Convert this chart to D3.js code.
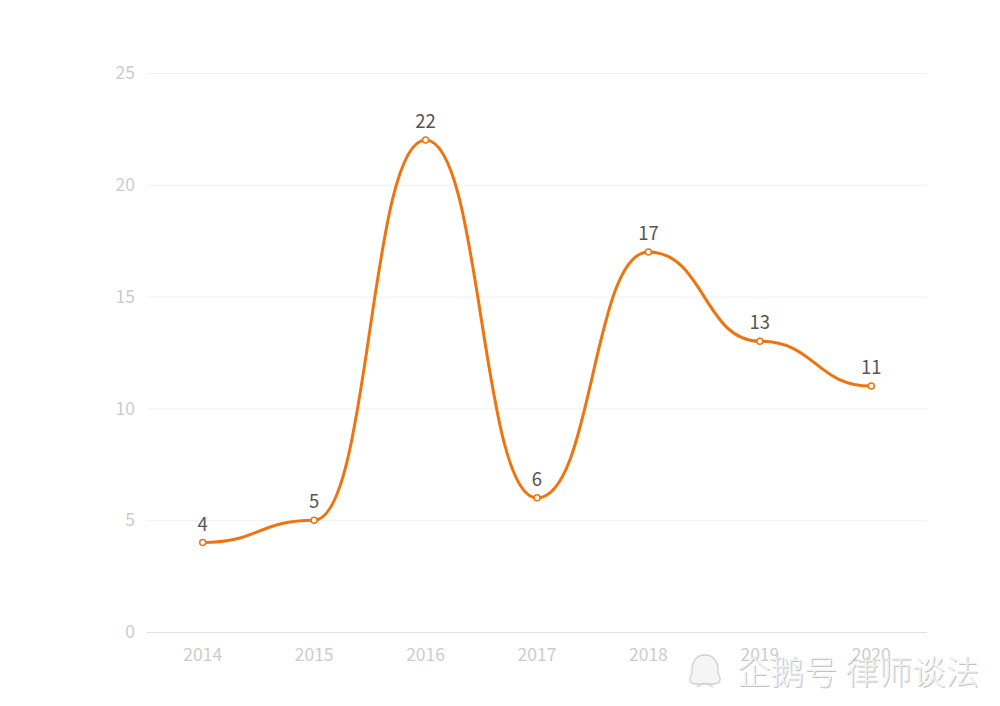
<!DOCTYPE html>
<html><head><meta charset="utf-8">
<script src="https://cdn.jsdelivr.net/npm/d3@7"></script>
<style>body{margin:0;background:#fff;}svg{display:block;}</style>
</head><body>
<svg id="c" width="1000" height="706"></svg>
<script>
const years = ["2014","2015","2016","2017","2018","2019","2020"];
const values = [4,5,22,6,17,13,11];
const yTicks = [0,5,10,15,20,25];

(function(){
const svg = d3.select("#c");
const mLeft = 147, mRight = 927, mTop = 73, mBottom = 632;
const x = d3.scaleBand().domain(years).range([mLeft, mRight]);
const cx = d => x(d) + x.bandwidth()/2;
const y = d3.scaleLinear().domain([0,25]).range([mBottom, mTop]);
const font = "'Noto Sans CJK SC', 'Open Sans', sans-serif";

// gridlines
svg.append("g").selectAll("line").data(yTicks.filter(t=>t>0)).join("line")
  .attr("x1", mLeft).attr("x2", mRight)
  .attr("y1", d=>y(d)+0.5).attr("y2", d=>y(d)+0.5)
  .attr("stroke", "#f0f0f0").attr("stroke-width", 1);

// y labels
svg.append("g").selectAll("text").data(yTicks).join("text")
  .attr("x", 135).attr("y", d=>y(d)).attr("dy","0.35em")
  .attr("text-anchor","end").attr("fill","#cccccc")
  .attr("font-family", font).attr("font-size", 17.5).text(d=>d);

// x axis line
svg.append("line").attr("x1", mLeft).attr("x2", mRight)
  .attr("y1", mBottom+0.5).attr("y2", mBottom+0.5)
  .attr("stroke","#e0e0e0").attr("stroke-width",1);

// x labels
svg.append("g").selectAll("text").data(years).join("text")
  .attr("x", d=>cx(d)).attr("y", 655).attr("dy","0.35em")
  .attr("text-anchor","middle").attr("fill","#cccccc")
  .attr("font-family", font).attr("font-size", 17.5).text(d=>d);

const pts = years.map((yr,i)=>({yr, v: values[i]}));
const line = d3.line().x(d=>cx(d.yr)).y(d=>y(d.v)).curve(d3.curveBumpX);
svg.append("path").datum(pts).attr("d", line)
  .attr("fill","none").attr("stroke","#ee7410").attr("stroke-width",3);

svg.append("g").selectAll("circle").data(pts).join("circle")
  .attr("cx", d=>cx(d.yr)).attr("cy", d=>y(d.v)).attr("r", 3)
  .attr("fill","#fff").attr("stroke","#ee7410").attr("stroke-width",1.5);

svg.append("g").selectAll("text").data(pts).join("text")
  .attr("x", d=>cx(d.yr)).attr("y", d=>y(d.v)-12)
  .attr("text-anchor","middle").attr("fill","#555555")
  .attr("font-family", font).attr("font-size", 18.5).text(d=>d.v);

// watermark
const wm = svg.append("g").attr("opacity", 0.85);
const wmFont = "'Noto Sans CJK SC', sans-serif";
wm.append("text").attr("x", 738).attr("y", 685)
  .attr("fill","#b8b8b8").attr("font-family", wmFont).attr("font-weight", 300).attr("font-size", 33.5)
  .text("企鹅号 律师谈法");
wm.append("text").attr("x", 737).attr("y", 684)
  .attr("fill","#f2f2f2").attr("font-family", wmFont).attr("font-weight", 300).attr("font-size", 33.5)
  .text("企鹅号 律师谈法");
const p = wm.append("g").attr("fill","#f4f4f4").attr("stroke","#c8c8c8").attr("stroke-width",1.3);
p.append("path").attr("d","M697,684 C690,684 688,680 692,673 C691,664 695,655 705,655 C715,655 719,664 718,673 C722,680 720,684 713,684 Z");
p.append("path").attr("fill","none").attr("d","M697,687 L704,683 M713,687 L706,683");
})();
</script>
</body></html>
